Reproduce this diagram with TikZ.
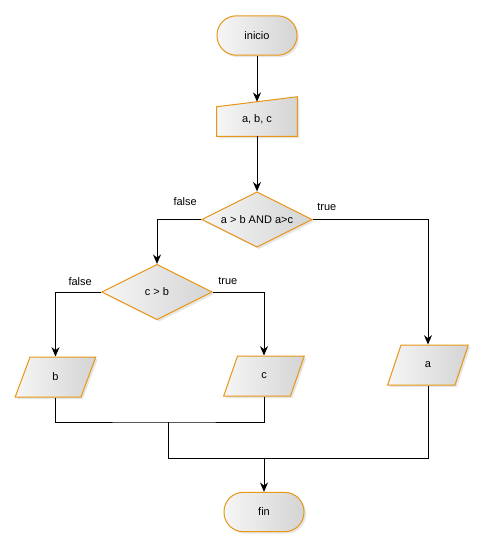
\documentclass[tikz,border=0pt]{standalone}
\usepackage{fontspec}
\setmainfont{Liberation Sans}
\usetikzlibrary{arrows.meta,positioning,calc,shapes.geometric,shadows,backgrounds}
\definecolor{edge}{RGB}{232,150,20}
\definecolor{lightfill}{RGB}{246,246,246}
\definecolor{darkfill}{RGB}{212,212,212}

\begin{document}
\begin{tikzpicture}[x=0.75pt,y=-0.75pt,
  every node/.style={align=center,font=\fontsize{8.25}{10}\selectfont,inner sep=2pt},
  shaded/.style={draw=edge,line width=0.75pt,left color=lightfill,right color=darkfill,
    drop shadow={opacity=0.2,shadow xshift=1.5pt,shadow yshift=-1.5pt}},
  term/.style={shaded,rounded corners=14.5pt,minimum width=60pt,minimum height=29.5pt},
  inbox/.style={minimum width=60pt,minimum height=25.5pt},
  decide/.style={shaded,diamond,aspect=2,inner sep=0pt,minimum width=83pt,minimum height=41.5pt},
  io/.style={shaded,trapezium,trapezium left angle=76,trapezium right angle=104,
    trapezium stretches=true,minimum width=60.5pt,minimum height=30pt},
  lbl/.style={inner sep=0pt},
  flow/.style={-{Stealth[length=7pt,width=6pt]},line width=0.75pt},
  link/.style={line width=0.75pt}]
  \useasboundingbox (0,0) rectangle (483,547);

  \node[term] (ini) at (257,35.5) {inicio};
  \node[inbox] (abc) at (257,119) {a, b, c};
  \begin{pgfonlayer}{background}
    \path[shaded] (abc.south west) -- (abc.south east) -- ($(abc.north east)+(0,-5)$)
      -- ($(abc.north west)+(0,5)$) -- cycle;
  \end{pgfonlayer}
  \node[decide] (d1) at (257,219.5) {a > b AND a>c};
  \node[decide] (d2) at (157,292) {c > b};
  \node[io] (outb) at (55.5,377) {b};
  \node[io] (outc) at (264,376) {c};
  \node[io] (outa) at (428,365) {a};
  \node[term] (fin) at (264,512) {fin};

  \node[lbl] (f1) at ($(d1.west)+(-16,-18)$) {false};
  \node[lbl] (t1) at ($(d1.east)+(14,-13)$) {true};
  \node[lbl] (f2) at ($(d2.west)+(-21,-10)$) {false};
  \node[lbl] (t2) at ($(d2.east)+(15,-11)$) {true};

  \coordinate (m1) at (168,422);
  \coordinate (m2) at (264,458);

  \draw[flow] (ini) -- (abc);
  \draw[flow] (abc) -- (d1);
  \draw[flow] (d1.west) -| (d2.north);
  \draw[flow] (d1.east) -| (outa.north);
  \draw[flow] (d2.west) -| (outb.north);
  \draw[flow] (d2.east) -| (outc.north);
  \draw[link] (outb.south) |- (m1) -| (outc.south);
  \draw[link] (m1) |- (m2);
  \draw[link] (outa.south) |- (m2);
  \draw[flow] (m2) -- (fin);
\end{tikzpicture}
\end{document}
